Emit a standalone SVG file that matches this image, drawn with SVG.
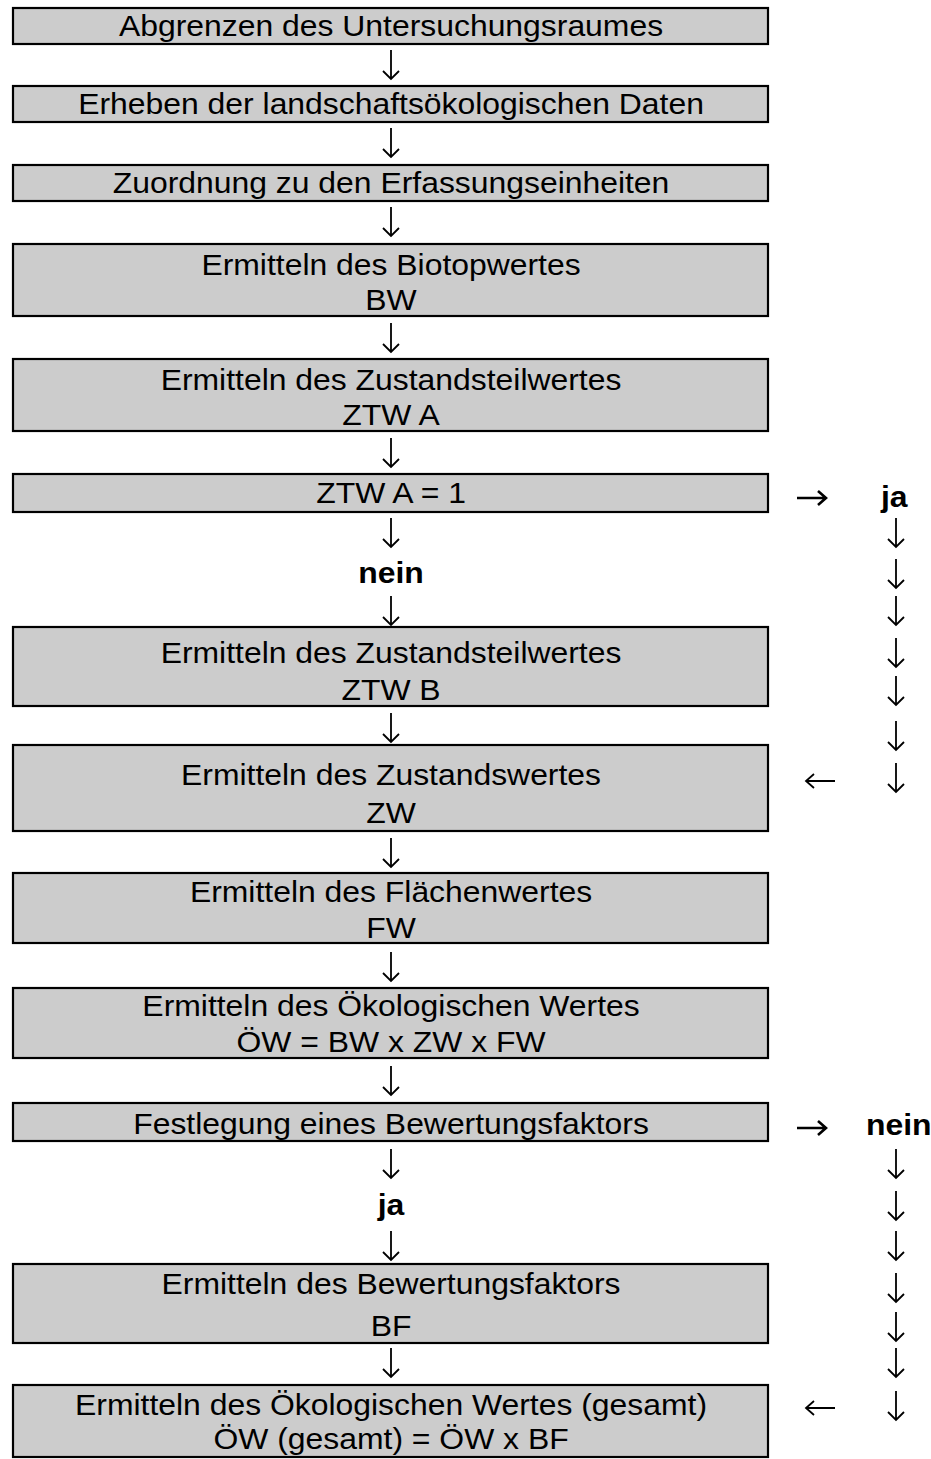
<svg xmlns="http://www.w3.org/2000/svg" width="931" height="1459" viewBox="0 0 931 1459">
<style>
.box{fill:#cccccc;stroke:#000;stroke-width:2.2}
.t{font-family:"Liberation Sans",Arial,sans-serif;font-size:29px;fill:#000;text-anchor:middle}
.b{font-weight:bold}
.ar{fill:none;stroke:#000;stroke-width:1.8;stroke-linecap:butt}
.arb{fill:none;stroke:#000;stroke-width:2.6}
</style>
<defs>
<path id="dn" d="M0,-14 V15 M-8,7 L0,15 L8,7" class="ar"/>
</defs>
<rect width="931" height="1459" fill="#fff"/>
<g id="n1"><rect class="box" x="13" y="8" width="755" height="36"/><text class="t" x="355.5" y="36" transform="scale(1.1 1)">Abgrenzen des Untersuchungsraumes</text></g>
<g id="n2"><rect class="box" x="13" y="86" width="755" height="36"/><text class="t" x="355.5" y="114" transform="scale(1.1 1)">Erheben der landschaftsökologischen Daten</text></g>
<g id="n3"><rect class="box" x="13" y="165" width="755" height="36"/><text class="t" x="355.5" y="193" transform="scale(1.1 1)">Zuordnung zu den Erfassungseinheiten</text></g>
<g id="n4"><rect class="box" x="13" y="244" width="755" height="72"/><text class="t" x="355.5" y="275" transform="scale(1.1 1)">Ermitteln des Biotopwertes</text><text class="t" x="355.5" y="310" transform="scale(1.1 1)">BW</text></g>
<g id="n5"><rect class="box" x="13" y="359" width="755" height="72"/><text class="t" x="355.5" y="390" transform="scale(1.1 1)">Ermitteln des Zustandsteilwertes</text><text class="t" x="355.5" y="425" transform="scale(1.1 1)">ZTW A</text></g>
<g id="n6"><rect class="box" x="13" y="474" width="755" height="38"/><text class="t" x="355.5" y="503" transform="scale(1.1 1)">ZTW A = 1</text></g>
<g id="n7"><rect class="box" x="13" y="627" width="755" height="79"/><text class="t" x="355.5" y="663" transform="scale(1.1 1)">Ermitteln des Zustandsteilwertes</text><text class="t" x="355.5" y="700" transform="scale(1.1 1)">ZTW B</text></g>
<g id="n8"><rect class="box" x="13" y="745" width="755" height="86"/><text class="t" x="355.5" y="785" transform="scale(1.1 1)">Ermitteln des Zustandswertes</text><text class="t" x="355.5" y="823" transform="scale(1.1 1)">ZW</text></g>
<g id="n9"><rect class="box" x="13" y="873" width="755" height="70"/><text class="t" x="355.5" y="902" transform="scale(1.1 1)">Ermitteln des Flächenwertes</text><text class="t" x="355.5" y="938" transform="scale(1.1 1)">FW</text></g>
<g id="n10"><rect class="box" x="13" y="988" width="755" height="70"/><text class="t" x="355.5" y="1016" transform="scale(1.1 1)">Ermitteln des Ökologischen Wertes</text><text class="t" x="355.5" y="1052" transform="scale(1.1 1)">ÖW = BW x ZW x FW</text></g>
<g id="n11"><rect class="box" x="13" y="1103" width="755" height="38"/><text class="t" x="355.5" y="1134" transform="scale(1.1 1)">Festlegung eines Bewertungsfaktors</text></g>
<g id="n12"><rect class="box" x="13" y="1264" width="755" height="79"/><text class="t" x="355.5" y="1294" transform="scale(1.1 1)">Ermitteln des Bewertungsfaktors</text><text class="t" x="355.5" y="1336" transform="scale(1.1 1)">BF</text></g>
<g id="n13"><rect class="box" x="13" y="1385" width="755" height="72"/><text class="t" x="355.5" y="1415" transform="scale(1.1 1)">Ermitteln des Ökologischen Wertes (gesamt)</text><text class="t" x="355.5" y="1449" transform="scale(1.1 1)">ÖW (gesamt) = ÖW x BF</text></g>
<g id="labels">
<text class="t b" x="355.5" y="583" transform="scale(1.1 1)">nein</text>
<text class="t b" x="813" y="507" transform="scale(1.1 1)">ja</text>
<text class="t b" x="817" y="1135" transform="scale(1.1 1)">nein</text>
<text class="t b" x="355.5" y="1215" transform="scale(1.1 1)">ja</text>
</g>
<g id="connectors">
<use href="#dn" x="391" y="64"/>
<use href="#dn" x="391" y="142"/>
<use href="#dn" x="391" y="221"/>
<use href="#dn" x="391" y="337"/>
<use href="#dn" x="391" y="452"/>
<use href="#dn" x="391" y="532"/>
<use href="#dn" x="391" y="610"/>
<use href="#dn" x="391" y="727"/>
<use href="#dn" x="391" y="852"/>
<use href="#dn" x="391" y="966"/>
<use href="#dn" x="391" y="1080"/>
<use href="#dn" x="391" y="1163"/>
<use href="#dn" x="391" y="1245"/>
<use href="#dn" x="391" y="1362"/>
<use href="#dn" x="896" y="532"/>
<use href="#dn" x="896" y="573"/>
<use href="#dn" x="896" y="610"/>
<use href="#dn" x="896" y="652"/>
<use href="#dn" x="896" y="690"/>
<use href="#dn" x="896" y="735"/>
<use href="#dn" x="896" y="777"/>
<use href="#dn" x="896" y="1163"/>
<use href="#dn" x="896" y="1205"/>
<use href="#dn" x="896" y="1245"/>
<use href="#dn" x="896" y="1287"/>
<use href="#dn" x="896" y="1326"/>
<use href="#dn" x="896" y="1362"/>
<use href="#dn" x="896" y="1405"/>
<path class="arb" d="M797,498 H826 M818,491 L826,498 L818,505"/>
<path class="arb" d="M797,1128 H826 M818,1121 L826,1128 L818,1135"/>
<path class="ar" d="M806,781 H835 M814,774 L806,781 L814,788"/>
<path class="ar" d="M806,1408 H835 M814,1401 L806,1408 L814,1415"/>
</g>
</svg>
